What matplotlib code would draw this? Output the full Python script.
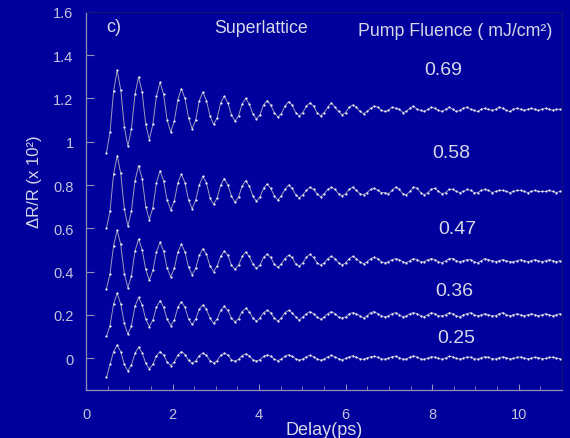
import numpy as np
import matplotlib
matplotlib.use("Agg")
import matplotlib.pyplot as plt
from matplotlib.ticker import MultipleLocator, FormatStrFormatter

plt.rcParams['font.family'] = ['Liberation Sans', 'DejaVu Sans']

# sampling of the delay axis (ps)
delay_start = 0.4725
delay_step = 0.0825

fluences = ["0.69", "0.58", "0.47", "0.36", "0.25"]

trace_069 = [
    0.95, 1.045, 1.235, 1.33, 1.24, 1.07,
    0.98, 1.06, 1.22, 1.30, 1.23, 1.08,
    1.01, 1.08, 1.21, 1.275, 1.22, 1.10,
    1.045, 1.095, 1.195, 1.245, 1.20, 1.11,
    1.06, 1.10, 1.19, 1.23, 1.19, 1.12,
    1.08, 1.11, 1.18, 1.21, 1.18, 1.125,
    1.095, 1.12, 1.175, 1.20, 1.175, 1.13,
    1.105, 1.125, 1.17, 1.19, 1.17, 1.135,
    1.115, 1.13, 1.165, 1.185, 1.17, 1.135,
    1.12, 1.135, 1.165, 1.18, 1.165, 1.135,
    1.12, 1.135, 1.16, 1.18, 1.16, 1.14,
    1.125, 1.135, 1.16, 1.17, 1.16, 1.14,
    1.13, 1.14, 1.155, 1.165, 1.16, 1.145,
    1.14, 1.145, 1.16, 1.155, 1.15, 1.135, 1.14, 1.155, 1.165, 1.15,
    1.145, 1.14, 1.15, 1.16, 1.155, 1.145, 1.14, 1.15, 1.16, 1.15,
    1.14, 1.145, 1.155, 1.16, 1.15, 1.145, 1.14, 1.15, 1.155, 1.15,
    1.145, 1.15, 1.16, 1.155, 1.145, 1.14, 1.15, 1.155, 1.15, 1.145,
    1.15, 1.155, 1.15, 1.145, 1.15, 1.155, 1.15, 1.145, 1.15, 1.15,
]

trace_058 = [
    0.60, 0.68, 0.85, 0.935, 0.855, 0.69,
    0.61, 0.68, 0.82, 0.89, 0.83, 0.70,
    0.64, 0.695, 0.81, 0.865, 0.82, 0.73,
    0.685, 0.725, 0.81, 0.85, 0.81, 0.73,
    0.69, 0.73, 0.80, 0.84, 0.81, 0.74,
    0.71, 0.74, 0.80, 0.83, 0.80, 0.75,
    0.72, 0.745, 0.795, 0.82, 0.795, 0.75,
    0.725, 0.745, 0.785, 0.805, 0.785, 0.75,
    0.73, 0.75, 0.78, 0.80, 0.785, 0.755,
    0.74, 0.755, 0.775, 0.79, 0.78, 0.76,
    0.745, 0.76, 0.78, 0.79, 0.78, 0.76,
    0.75, 0.76, 0.78, 0.79, 0.775, 0.76,
    0.755, 0.765, 0.78, 0.785, 0.775, 0.765,
    0.765, 0.76, 0.775, 0.79, 0.78, 0.76, 0.755, 0.77, 0.79, 0.785,
    0.765, 0.755, 0.765, 0.78, 0.785, 0.77, 0.76, 0.765, 0.78, 0.78,
    0.77, 0.765, 0.77, 0.78, 0.775, 0.765, 0.765, 0.775, 0.78, 0.775,
    0.765, 0.77, 0.775, 0.775, 0.77, 0.765, 0.77, 0.775, 0.775, 0.77,
    0.765, 0.77, 0.775, 0.77, 0.77, 0.77, 0.775, 0.77, 0.765, 0.77,
]

trace_047 = [
    0.32, 0.39, 0.52, 0.59, 0.525, 0.39,
    0.325, 0.38, 0.495, 0.55, 0.50, 0.41,
    0.36, 0.405, 0.49, 0.535, 0.495, 0.415,
    0.375, 0.415, 0.49, 0.527, 0.49, 0.42,
    0.385, 0.415, 0.475, 0.505, 0.48, 0.425,
    0.40, 0.425, 0.47, 0.495, 0.475, 0.43,
    0.41, 0.43, 0.47, 0.49, 0.47, 0.435,
    0.415, 0.43, 0.465, 0.48, 0.465, 0.435,
    0.42, 0.435, 0.46, 0.475, 0.465, 0.435,
    0.425, 0.44, 0.465, 0.48, 0.465, 0.44,
    0.43, 0.44, 0.46, 0.47, 0.46, 0.44,
    0.43, 0.44, 0.46, 0.47, 0.46, 0.445,
    0.435, 0.445, 0.46, 0.465, 0.46, 0.445,
    0.44, 0.445, 0.455, 0.46, 0.455, 0.445, 0.44, 0.45, 0.46, 0.455,
    0.445, 0.445, 0.455, 0.46, 0.455, 0.445, 0.44, 0.45, 0.46, 0.46,
    0.45, 0.445, 0.45, 0.455, 0.455, 0.445, 0.44, 0.45, 0.46, 0.455,
    0.45, 0.445, 0.45, 0.455, 0.45, 0.445, 0.445, 0.45, 0.455, 0.45,
    0.445, 0.45, 0.455, 0.45, 0.445, 0.45, 0.455, 0.45, 0.445, 0.45,
]

trace_036 = [
    0.10, 0.15, 0.25, 0.30, 0.25, 0.16,
    0.11, 0.15, 0.24, 0.28, 0.245, 0.18,
    0.145, 0.175, 0.235, 0.265, 0.235, 0.18,
    0.15, 0.175, 0.235, 0.26, 0.235, 0.18,
    0.155, 0.18, 0.225, 0.245, 0.225, 0.185,
    0.16, 0.18, 0.22, 0.24, 0.22, 0.185,
    0.167, 0.182, 0.215, 0.23, 0.215, 0.185,
    0.17, 0.185, 0.21, 0.22, 0.21, 0.185,
    0.17, 0.185, 0.21, 0.22, 0.21, 0.19,
    0.175, 0.19, 0.205, 0.215, 0.205, 0.19,
    0.18, 0.19, 0.205, 0.215, 0.205, 0.19,
    0.185, 0.19, 0.205, 0.21, 0.205, 0.195,
    0.185, 0.195, 0.21, 0.215, 0.205, 0.195,
    0.19, 0.195, 0.205, 0.21, 0.20, 0.19, 0.195, 0.205, 0.21, 0.205,
    0.195, 0.19, 0.20, 0.21, 0.205, 0.195, 0.195, 0.20, 0.21, 0.205,
    0.195, 0.19, 0.20, 0.205, 0.21, 0.20, 0.195, 0.20, 0.205, 0.20,
    0.195, 0.195, 0.205, 0.21, 0.20, 0.195, 0.20, 0.205, 0.20, 0.195,
    0.20, 0.205, 0.20, 0.195, 0.20, 0.205, 0.20, 0.195, 0.20, 0.205,
]

trace_025 = [
    -0.09, -0.03, 0.03, 0.06, 0.03, -0.03,
    -0.06, -0.032, 0.022, 0.05, 0.025, -0.025,
    -0.05, -0.03, 0.01, 0.03, 0.014, -0.019,
    -0.035, -0.019, 0.014, 0.03, 0.016, -0.011,
    -0.025, -0.013, 0.011, 0.023, 0.012, -0.012,
    -0.023, -0.012, 0.012, 0.023, 0.014, -0.008,
    -0.015, -0.006, 0.011, 0.02, 0.011, -0.007,
    -0.015, -0.007, 0.007, 0.015, 0.008, -0.005,
    -0.012, -0.005, 0.008, 0.015, 0.007, -0.004,
    -0.01, -0.004, 0.006, 0.012, 0.006, -0.004,
    -0.01, -0.004, 0.006, 0.012, 0.005, -0.003,
    -0.008, -0.002, 0.006, 0.01, 0.004, -0.004,
    -0.006, 0.0, 0.006, 0.008, 0.003, -0.004,
    -0.005, 0.0, 0.006, 0.008, 0.002, -0.006, -0.004, 0.004, 0.01, 0.004,
    -0.004, -0.006, 0.0, 0.006, 0.004, -0.002, -0.006, 0.0, 0.008, 0.006,
    -0.002, -0.005, 0.0, 0.005, 0.004, -0.003, -0.005, 0.002, 0.006, 0.003,
    -0.003, -0.004, 0.002, 0.005, 0.002, -0.004, -0.002, 0.003, 0.005, 0.0,
    -0.004, 0.0, 0.004, 0.002, -0.003, -0.002, 0.003, 0.004, 0.0, -0.003,
]

traces = [trace_069, trace_058, trace_047, trace_036, trace_025]

# label positions (delay, dR/R) for each fluence
label_x = [8.25, 8.43, 8.58, 8.52, 8.56]
label_y = [1.336, 0.948, 0.601, 0.314, 0.097]

y_ticks = [0, 0.2, 0.4, 0.6, 0.8, 1.0, 1.2, 1.4, 1.6]
x_ticks = [0, 2, 4, 6, 8, 10]

bg = '#00009c'
fg = '#c4c4dc'

fig = plt.figure(figsize=(5.7, 4.39), dpi=100, facecolor=bg)
ax = fig.add_axes([0.1509, 0.1093, 0.8351, 0.8611], facecolor=bg)

for vals in traces:
    v = np.array(vals)
    t = delay_start + delay_step * np.arange(len(v))
    ax.plot(t, v, color='#9c9cbc', lw=0.7, zorder=2)
    ax.plot(t, v, ls='none', marker='o', ms=1.6, mfc='#f0f0f8', mec='none', zorder=3)

for lab, lx, ly in zip(fluences, label_x, label_y):
    ax.text(lx, ly, lab, color='#d8d8e8', fontsize=14, ha='center', va='center')

ax.text(0.63, 1.535, 'c)', color='#d8d8e8', fontsize=13, ha='center', va='center')
ax.text(4.05, 1.53, 'Superlattice', color='#d8d8e8', fontsize=12.8, ha='center', va='center')
ax.text(8.52, 1.515, 'Pump Fluence ( mJ/cm²)', color='#d8d8e8', fontsize=12.8,
        ha='center', va='center')

ax.set_xlim(0, 11)
ax.set_ylim(-0.148, 1.6)
ax.set_xticks(x_ticks)
ax.xaxis.set_minor_locator(MultipleLocator(0.5))
ax.set_yticks(y_ticks)
ax.yaxis.set_major_formatter(FormatStrFormatter('%g'))
ax.xaxis.set_major_formatter(FormatStrFormatter('%g'))

ax.tick_params(axis='both', which='both', direction='in', colors='#9090b8',
               labelcolor=fg, labelsize=10.5)
ax.tick_params(axis='y', which='major', length=6, pad=9)
ax.tick_params(axis='x', which='major', length=4, pad=12)
ax.tick_params(axis='x', which='minor', length=3)

for s in ['left', 'bottom']:
    ax.spines[s].set_color('#9090b8')
    ax.spines[s].set_linewidth(0.9)
for s in ['top', 'right']:
    ax.spines[s].set_color('#12127a')
    ax.spines[s].set_linewidth(0.9)

ax.set_xlabel('Delay(ps)', color='#d8d8e8', fontsize=13, labelpad=0)
ax.set_ylabel('ΔR/R (x 10²)', color='#d8d8e8', fontsize=12, labelpad=6)
ax.yaxis.set_label_coords(-0.092, 0.553)

fig.savefig('out.png', dpi=100, facecolor=bg)
